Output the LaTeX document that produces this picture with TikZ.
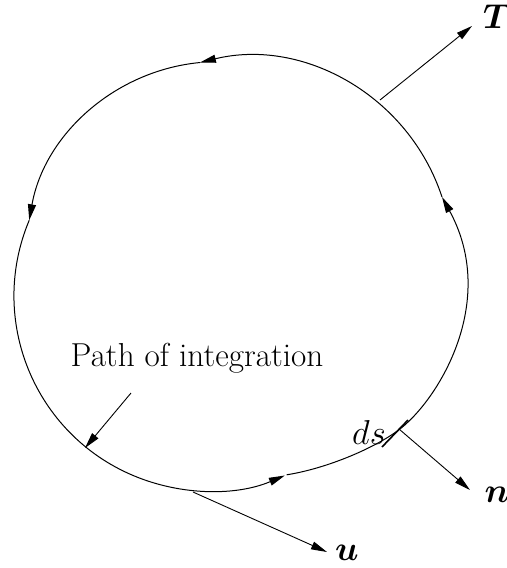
\documentclass[tikz,border=0pt]{standalone}
\usepackage{amsmath}
\usetikzlibrary{arrows.meta}
\begin{document}
\begin{tikzpicture}[x=0.5pt,y=-0.5pt,
  curve/.style={line width=0.5pt},
  tip/.style={-{Triangle[length=8pt,width=4pt]}},
  vec/.style={line width=0.45pt,-{Triangle[length=8pt,width=4pt]}},
  lbl/.style={inner sep=0pt,font=\fontsize{16.6}{20}\selectfont}]
\useasboundingbox (0,0) rectangle (507,568);
% junctions of the path of integration
\coordinate (J1) at (442,197);
\coordinate (J3) at (286.7,474.8);
% path of integration (closed curve, drawn counterclockwise)
\draw[curve,tip] (J1) arc[start angle=-18.2, end angle=-103.7, radius=204] coordinate (J2);
\draw[curve,tip] (J2) arc[start angle=-95.5, end angle=-170, radius=192] coordinate (J2b);
\draw[curve,tip] (J2b) arc[start angle=202.8, end angle=67.1, radius=195];
\draw[curve,tip] (J3) .. controls (330,468) and (385,444) .. (407,423)
                      .. controls (445,388) and (496,296) .. (J1);
% labels
\node[lbl] (T) at (497,17) {$\boldsymbol{T}$};
\node[lbl] (n) at (497,495) {$\boldsymbol{n}$};
\node[lbl] (u) at (347,553) {$\boldsymbol{u}$};
\node[lbl] (ds) at (369,432) {$ds$};
\node[lbl] (path) at (197,358) {Path of integration};
% anchor points
\coordinate (Tstart) at (380,100);
\coordinate (Ttip) at (472,26);
\coordinate (nstart) at (399,429);
\coordinate (ntip) at (470,490);
\coordinate (ustart) at (193,492);
\coordinate (utip) at (327,552);
\coordinate (pstart) at (131,393);
\coordinate (ptip) at (85,448);
\coordinate (dsA) at (382,447);
\coordinate (dsB) at (408,420);
% vectors
\draw[vec] (Tstart) -- (Ttip);
\draw[vec] (nstart) -- (ntip);
\draw[vec] (ustart) -- (utip);
\draw[vec] (pstart) -- (ptip);
\draw[line width=0.8pt] (dsA) -- (dsB);
\end{tikzpicture}
\end{document}
